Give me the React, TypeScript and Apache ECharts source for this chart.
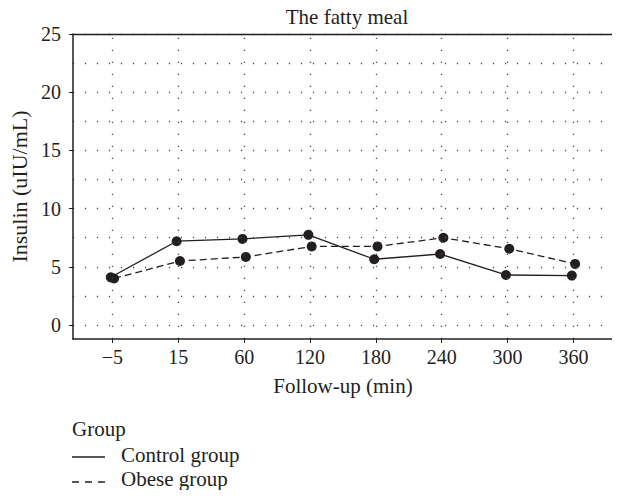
import React, { useEffect, useRef } from "react";
import * as echarts from "echarts";

const categories = ["\u22125", "15", "60", "120", "180", "240", "300", "360"];
const controlGroup = [4.1, 7.2, 7.4, 7.75, 5.65, 6.1, 4.3, 4.25];
const obeseGroup = [4.0, 5.5, 5.85, 6.75, 6.75, 7.5, 6.55, 5.25];
const yTicks = [0, 5, 10, 15, 20, 25];
const yGrid = [0, 2.5, 5, 7.5, 10, 12.5, 15, 17.5, 20, 22.5, 25];
const xTicks = [0, 1, 2, 3, 4, 5, 6, 7];

const FONT = "'Liberation Serif', 'DejaVu Serif', serif";
const INK = "#231f20";
const FS = 21;

export default function App() {
  const ref = useRef<HTMLDivElement>(null);
  useEffect(() => {
    const chart = echarts.init(ref.current!, null, { renderer: "svg" });
    const dotted = { color: "#4a4a4a", width: 1.3, type: [1.2, 10.8] as number[] };
    const frameAxis = {
      show: true,
      axisLine: { show: true, onZero: false, lineStyle: { color: INK, width: 1.3 } },
      axisTick: { show: false },
      axisLabel: { show: false },
      splitLine: { show: false },
      z: 10,
    };
    chart.setOption({
      animation: false,
      title: {
        text: "The fatty meal",
        left: 342,
        top: 1,
        textAlign: "center",
        textStyle: { fontFamily: FONT, fontSize: FS, fontWeight: "normal", color: INK },
      },
      grid: { left: 72, top: 34, width: 541, height: 305 },
      xAxis: [
        {
          type: "value",
          min: -0.6,
          max: 7.6,
          name: "Follow-up (min)",
          nameLocation: "middle",
          nameGap: 36,
          nameTextStyle: { fontFamily: FONT, fontSize: FS, color: INK },
          axisLine: { show: true, onZero: false, lineStyle: { color: INK, width: 1.5 } },
          axisTick: { show: true, customValues: xTicks, length: 4, lineStyle: { color: INK } },
          axisLabel: {
            customValues: xTicks,
            formatter: (v: number) => categories[Math.round(v)] ?? "",
            fontFamily: FONT,
            fontSize: 20,
            color: INK,
            margin: 8,
          },
          splitLine: { show: false },
          z: 10,
        },
        { ...frameAxis, type: "value", position: "top", min: -0.6, max: 7.6 },
      ],
      yAxis: [
        {
          type: "value",
          min: -1.2,
          max: 25,
          name: "Insulin (uIU/mL)",
          nameLocation: "middle",
          nameGap: 40,
          nameTextStyle: { fontFamily: FONT, fontSize: 22, color: INK },
          axisLine: { show: true, onZero: false, lineStyle: { color: INK, width: 1.5 } },
          axisTick: { show: true, customValues: yTicks, length: 4, lineStyle: { color: INK } },
          axisLabel: {
            customValues: yTicks,
            fontFamily: FONT,
            fontSize: 20,
            color: INK,
            margin: 12,
          },
          splitLine: { show: false },
          z: 10,
        },
        { ...frameAxis, type: "value", position: "right", min: -1.2, max: 25 },
      ],
      series: [
        {
          type: "line",
          data: [],
          z: 1,
          silent: true,
          markLine: {
            silent: true,
            symbol: "none",
            label: { show: false },
            lineStyle: dotted,
            data: [
              ...yGrid.map((v) => ({ yAxis: v })),
              ...xTicks.map((v) => ({ xAxis: v })),
            ],
          },
        },
        {
          name: "Control group",
          type: "line",
          z: 3,
          data: controlGroup.map((v, i) => [i - 0.025, v]),
          symbol: "circle",
          symbolSize: 10,
          itemStyle: { color: INK },
          lineStyle: { color: INK, width: 1.3, type: "solid" },
        },
        {
          name: "Obese group",
          type: "line",
          z: 3,
          data: obeseGroup.map((v, i) => [i + 0.025, v]),
          symbol: "circle",
          symbolSize: 10,
          itemStyle: { color: INK },
          lineStyle: { color: INK, width: 1.3, type: [7, 4] },
        },
      ],
      graphic: [
        {
          type: "text",
          x: 72,
          y: 429,
          style: { text: "Group", fontFamily: FONT, fontSize: FS, fill: INK, verticalAlign: "middle" },
        },
        {
          type: "line",
          shape: { x1: 72, y1: 457, x2: 105, y2: 457 },
          style: { stroke: INK, lineWidth: 1.4 },
        },
        {
          type: "text",
          x: 121,
          y: 455,
          style: { text: "Control group", fontFamily: FONT, fontSize: FS, fill: INK, verticalAlign: "middle" },
        },
        {
          type: "line",
          shape: { x1: 72, y1: 482, x2: 105, y2: 482 },
          style: { stroke: INK, lineWidth: 1.4, lineDash: [7, 6] },
        },
        {
          type: "text",
          x: 121,
          y: 479,
          style: { text: "Obese group", fontFamily: FONT, fontSize: FS, fill: INK, verticalAlign: "middle" },
        },
      ],
    });
    return () => chart.dispose();
  }, []);
  return <div ref={ref} style={{ width: 620, height: 498, margin: -8 }} />;
}
